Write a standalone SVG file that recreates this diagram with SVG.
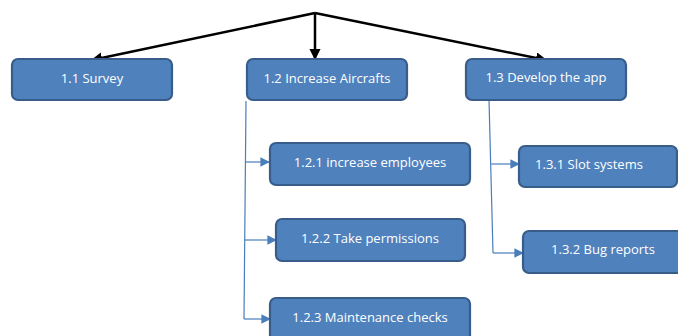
<svg xmlns="http://www.w3.org/2000/svg" width="678" height="336" viewBox="0 0 678 336">
<style>
.box{fill:#4f81bd;stroke:#385d8a;stroke-width:2.2}
.t{fill:#fff;font-family:"Open Sans","Liberation Sans",sans-serif;font-size:13px;text-anchor:middle;dominant-baseline:central}
.blk{stroke:#000;stroke-width:2.5;fill:none}
.blu{stroke:#4a7ebb;stroke-width:1.2;fill:none}
</style>
<defs>
<marker id="ab" viewBox="0 0 10 10" refX="9" refY="5" markerWidth="4.5" markerHeight="4.5" orient="auto" markerUnits="strokeWidth"><path d="M0,0L10,5L0,10z" fill="#000"/></marker>
<marker id="au" viewBox="0 0 10 10" refX="9" refY="5" markerWidth="8" markerHeight="8" orient="auto" markerUnits="strokeWidth"><path d="M0,0L10,5L0,10z" fill="#4a7ebb"/></marker>
</defs>
<rect width="678" height="336" fill="#fff"/>
<g id="connectors">
<path class="blk" d="M315,13L92,60" marker-end="url(#ab)"/>
<path class="blk" d="M315,13L315,59" marker-end="url(#ab)"/>
<path class="blk" d="M315,13L546,60" marker-end="url(#ab)"/>
<path class="blu" d="M246,101L244,319"/>
<path class="blu" d="M245.5,162L269,162" marker-end="url(#au)"/>
<path class="blu" d="M244.8,240L276,240" marker-end="url(#au)"/>
<path class="blu" d="M244,319L270,319" marker-end="url(#au)"/>
<path class="blu" d="M489,100L493,253"/>
<path class="blu" d="M491.3,164L519,164" marker-end="url(#au)"/>
<path class="blu" d="M493,253L523,253" marker-end="url(#au)"/>
</g>
<g id="n11"><rect class="box" x="12" y="59" width="160" height="41" rx="6"/><text class="t" x="92" y="78">1.1 Survey</text></g>
<g id="n12"><rect class="box" x="247" y="59" width="160" height="41" rx="6"/><text class="t" x="327" y="78">1.2 Increase Aircrafts</text></g>
<g id="n13"><rect class="box" x="466" y="59" width="160" height="41" rx="6"/><text class="t" x="546" y="77">1.3 Develop the app</text></g>
<g id="n121"><rect class="box" x="270" y="143" width="200" height="42" rx="6"/><text class="t" x="370" y="162">1.2.1 increase employees</text></g>
<g id="n122"><rect class="box" x="276" y="219" width="189" height="42" rx="6"/><text class="t" x="370" y="238">1.2.2 Take permissions</text></g>
<g id="n123"><rect class="box" x="270" y="298" width="200" height="44" rx="6"/><text class="t" x="370" y="317">1.2.3 Maintenance checks</text></g>
<g id="n131"><rect class="box" x="519" y="146" width="158" height="41" rx="6"/><text class="t" x="589" y="164">1.3.1 Slot systems</text></g>
<g id="n132"><rect class="box" x="523" y="231" width="160" height="42" rx="6"/><text class="t" x="603" y="249">1.3.2 Bug reports</text></g>
</svg>
